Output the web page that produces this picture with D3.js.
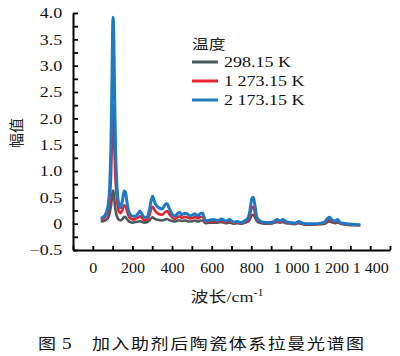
<!DOCTYPE html>
<html><head><meta charset="utf-8">
<script src="https://cdn.jsdelivr.net/npm/d3@7"></script>
<style>
html,body{margin:0;padding:0;background:#fff;}
svg{display:block;}
</style></head>
<body>
<svg id="c" width="400" height="356"></svg>
<script>
// wavenumbers (cm^-1)
const wavenumbers = [40,60,75,85,92,97,100,103,106,110,115,122,130,140,150,158,165,172,180,190,200,215,230,238,245,260,275,285,295,302,310,320,335,350,365,375,385,400,415,430,440,450,465,475,490,505,515,530,545,555,562,570,590,610,630,650,670,690,710,730,750,770,785,795,802,810,818,830,850,880,910,930,945,960,975,1000,1020,1040,1060,1090,1120,1150,1170,1185,1195,1210,1225,1235,1250,1280,1310,1350];
const series298 = [0.04,0.06,0.1,0.2,0.35,0.5,0.6,0.63,0.55,0.4,0.25,0.14,0.08,0.06,0.09,0.13,0.12,0.09,0.05,0.03,0.02,0.03,0.04,0.05,0.04,0.02,0.03,0.06,0.1,0.12,0.1,0.08,0.07,0.06,0.08,0.09,0.07,0.05,0.04,0.06,0.06,0.05,0.06,0.05,0.04,0.05,0.06,0.04,0.06,0.06,0.03,0.01,0.02,0.02,0.02,0.03,0.01,0.02,0.0,0.01,0.0,0.02,0.04,0.1,0.16,0.17,0.12,0.04,0.01,0.0,0.01,0.03,0.02,0.03,0.01,0.0,-0.01,0.01,-0.01,-0.02,-0.02,-0.01,0.0,0.03,0.04,0.02,0.01,0.02,0.0,-0.02,-0.03,-0.03];
const series1273 = [0.08,0.12,0.22,0.45,0.9,1.6,2.1,2.25,1.9,1.3,0.8,0.45,0.25,0.2,0.27,0.35,0.33,0.25,0.15,0.1,0.08,0.09,0.12,0.14,0.12,0.07,0.08,0.15,0.28,0.32,0.27,0.22,0.18,0.17,0.22,0.24,0.19,0.12,0.09,0.13,0.14,0.11,0.13,0.12,0.1,0.11,0.13,0.1,0.13,0.13,0.08,0.03,0.04,0.05,0.04,0.06,0.03,0.05,0.02,0.02,0.01,0.04,0.08,0.2,0.3,0.32,0.22,0.07,0.03,0.01,0.02,0.05,0.03,0.05,0.03,0.01,0.0,0.02,0.0,-0.01,-0.01,0.0,0.02,0.06,0.08,0.04,0.03,0.05,0.01,-0.01,-0.02,-0.03];
const series2173 = [0.1,0.15,0.3,0.7,1.6,2.8,3.7,3.92,3.5,2.5,1.4,0.7,0.4,0.3,0.45,0.62,0.6,0.42,0.25,0.17,0.14,0.14,0.2,0.24,0.2,0.12,0.13,0.25,0.45,0.52,0.43,0.35,0.3,0.28,0.36,0.38,0.3,0.18,0.14,0.2,0.21,0.17,0.2,0.19,0.15,0.17,0.19,0.15,0.2,0.2,0.12,0.05,0.07,0.08,0.06,0.09,0.05,0.08,0.03,0.04,0.02,0.06,0.12,0.3,0.47,0.5,0.35,0.1,0.04,0.02,0.03,0.08,0.05,0.08,0.04,0.02,0.01,0.04,0.01,0.0,0.0,0.01,0.03,0.1,0.12,0.06,0.05,0.08,0.02,0.0,-0.01,-0.02];
const seriesNames = ["298.15 K","1 273.15 K","2 173.15 K"];
const seriesColors = ["#4b5a5f","#e5232f","#1f7ac4"];
const yTicks = [-0.5,-0.25,0,0.25,0.5,0.75,1,1.25,1.5,1.75,2,2.25,2.5,2.75,3,3.25,3.5,3.75,4];
const xTicks = [-100,0,100,200,300,400,500,600,700,800,900,1000,1100,1200,1300,1400,1500];
const xLabelled = [0,200,400,600,800,1000,1200,1400];

const svg = d3.select("#c");
const SX = 1.2;
const serif = "'Liberation Serif','Times New Roman',serif";
const cjk = "'Noto Sans CJK SC','Noto Sans CJK JP',sans-serif";

const x = d3.scaleLinear().domain([-100,1500]).range([73,390]);
const y = d3.scaleLinear().domain([-0.5,4.0]).range([250,13]);

const loc = d3.formatLocale({decimal:".",thousands:" ",grouping:[3],currency:["",""]});
const fx = loc.format(",");

// lines
const line = d3.line().x((d,i)=>x(wavenumbers[i])).y(d=>y(d)).curve(d3.curveMonotoneX);
const allSeries = [series298, series1273, series2173];
[0,1,2].forEach(k=>{
  svg.append("path").datum(allSeries[k]).attr("d",line)
    .attr("fill","none").attr("stroke",seriesColors[k])
    .attr("stroke-width",k===2?3:2.6).attr("stroke-linejoin","round");
});

// y axis
const ya = svg.append("g").attr("transform","translate(73,0)")
  .call(d3.axisLeft(y).tickValues(yTicks).tickSizeInner(-5).tickSizeOuter(0).tickPadding(9)
    .tickFormat(d=> (Math.abs(d*2-Math.round(d*2))<1e-9) ? (d===0?"0":d3.format(".1f")(d)) : ""));
ya.select(".domain").attr("stroke","#000").attr("stroke-width",2);
ya.selectAll(".tick line").attr("stroke","#000").attr("stroke-width",1.8);
ya.selectAll(".tick text").attr("font-family",serif).attr("font-size",15).attr("fill","#111")
  .attr("transform",`scale(${SX},1)`);

// x axis
const xa = svg.append("g").attr("transform","translate(0,250)")
  .call(d3.axisBottom(x).tickValues(xTicks).tickSizeInner(-4).tickSizeOuter(0).tickPadding(12)
    .tickFormat(d=> xLabelled.includes(d) ? fx(d) : ""));
xa.select(".domain").attr("stroke","#000").attr("stroke-width",2);
xa.selectAll(".tick line").attr("stroke","#000").attr("stroke-width",1.8);
xa.selectAll(".tick text").attr("font-family",serif).attr("font-size",15).attr("fill","#111")
  .attr("transform","scale(1.07,1)");

// y title
svg.append("text").attr("transform","translate(22,133) rotate(-90)")
  .attr("text-anchor","middle").attr("font-family",cjk).attr("font-size",15).attr("fill","#222")
  .text("幅值");

// x title
const xt = svg.append("text").attr("transform",`translate(227,302) scale(${SX},1)`)
  .attr("text-anchor","middle").attr("font-size",15).attr("fill","#222");
xt.append("tspan").attr("font-family",cjk).text("波长");
xt.append("tspan").attr("font-family",serif).text("/cm");
xt.append("tspan").attr("font-family",serif).attr("font-size",10).attr("dy",-6).text("-1");

// legend
svg.append("text").attr("transform",`translate(192,49) scale(${SX},1)`)
  .attr("font-family",cjk).attr("font-size",14).attr("fill","#222").text("温度");
const legY = [62,81,100];
seriesNames.forEach((n,i)=>{
  svg.append("line").attr("x1",192).attr("x2",218).attr("y1",legY[i]).attr("y2",legY[i])
    .attr("stroke",seriesColors[i]).attr("stroke-width",3);
  svg.append("text").attr("transform",`translate(224,${legY[i]+5}) scale(${SX},1)`)
    .attr("font-family",serif).attr("font-size",15).attr("fill","#111").text(n);
});

// caption
svg.append("text").attr("transform",`translate(38,349) scale(${SX},1)`)
  .attr("font-family",cjk).attr("font-size",15).attr("fill","#111").text("图");
svg.append("text").attr("transform",`translate(62,349) scale(${SX},1)`)
  .attr("font-family",serif).attr("font-size",16).attr("fill","#111").text("5");
svg.append("text").attr("transform",`translate(92,349) scale(${SX},1)`)
  .attr("font-family",cjk).attr("font-size",15).attr("letter-spacing",1.3).attr("fill","#111")
  .text("加入助剂后陶瓷体系拉曼光谱图");
</script>
</body></html>
